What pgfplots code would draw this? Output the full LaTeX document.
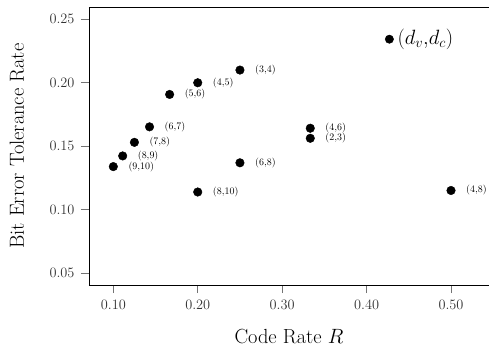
\documentclass[border=0pt]{standalone}
\usepackage{pgfplots}
\pgfplotsset{compat=1.18}
\begin{document}
\begin{tikzpicture}
\begin{axis}[
  name=ax,
  scale only axis,
  width=400bp, height=277.7bp,
  xmin=0.0712, xmax=0.545,
  ymin=0.0408, ymax=0.2594,
  axis lines*=left,
  axis line style={line width=0.8bp, black},
  clip=false,
  xtick={0.1,0.2,0.3,0.4,0.5},
  ytick={0.05,0.10,0.15,0.20,0.25},
  tick align=outside,
  major tick length=8bp,
  tick style={line width=0.6bp, black!55},
  xticklabel style={/pgf/number format/.cd, fixed, fixed zerofill, precision=2},
  yticklabel style={/pgf/number format/.cd, fixed, fixed zerofill, precision=2},
  ticklabel style={font=\fontsize{15}{17}\selectfont, text=black!80},
  xticklabel shift=4bp,
  yticklabel shift=3bp,
  xlabel={Code Rate $R$},
  ylabel={Bit Error Tolerance Rate},
  every axis x label/.style={at={(axis description cs:0.5,0)}, yshift=-52bp, anchor=center, font=\fontsize{20.5}{22}\selectfont},
  every axis y label/.style={at={(axis description cs:0,0.5)}, xshift=-72bp, rotate=90, anchor=center, font=\fontsize{20.5}{22}\selectfont},
]
\draw[line width=0.8bp] (rel axis cs:0,1) -- (rel axis cs:1,1);
\addplot[only marks, mark=*, mark size=4.3bp, black,
  nodes near coords, point meta=explicit symbolic,
  every node near coord/.append style={anchor=west, inner sep=0pt, xshift=15bp, font=\fontsize{10}{11}\selectfont}]
  table[meta=label] {
x y label
0.1000 0.1340 (9,10)
0.1111 0.1424 (8,9)
0.1250 0.1531 (7,8)
0.1429 0.1653 (6,7)
0.1667 0.1908 (5,6)
0.2000 0.2000 (4,5)
0.2500 0.2100 (3,4)
0.2500 0.1370 (6,8)
0.2000 0.1140 (8,10)
0.3333 0.1642 (4,6)
0.3333 0.1563 (2,3)
0.5000 0.1152 (4,8)
};
\addplot[only marks, mark=*, mark size=4.2bp, black,
  nodes near coords={$(d_v{,}d_c)$},
  every node near coord/.append style={anchor=west, inner sep=0pt, xshift=8bp, font=\fontsize{22}{24}\selectfont}]
  coordinates {(0.427,0.2343)};
\end{axis}
\pgfresetboundingbox
\path ([shift={(-89bp,-63bp)}]ax.south west) rectangle ([shift={(0bp,7.3bp)}]ax.north east);
\end{tikzpicture}
\end{document}
